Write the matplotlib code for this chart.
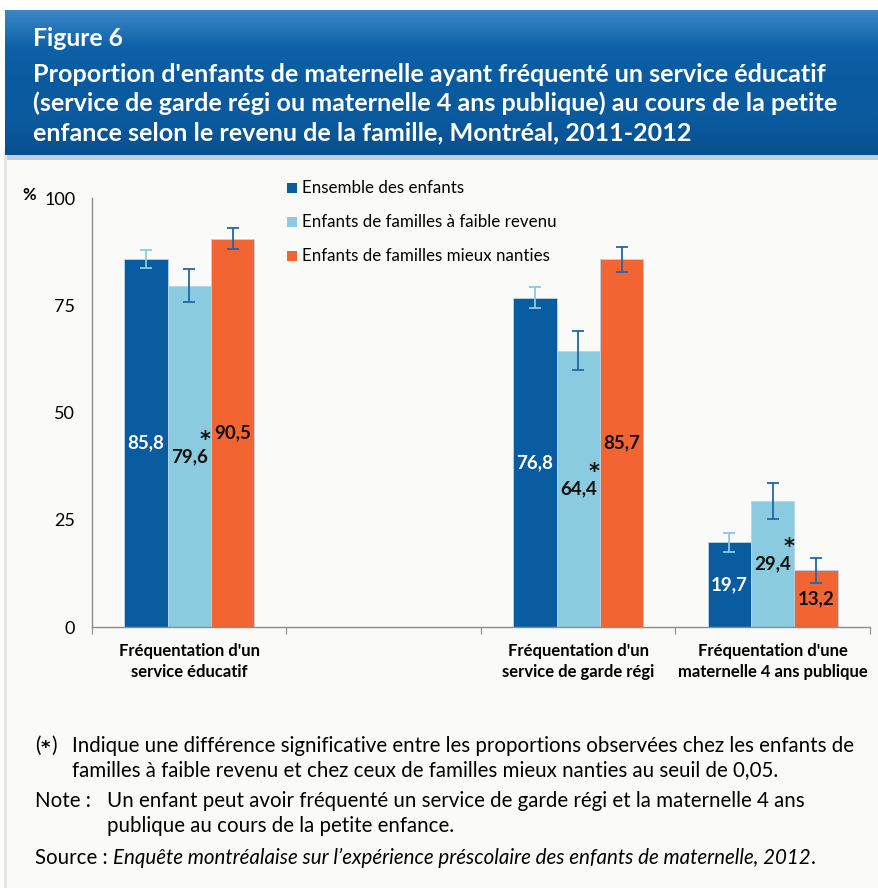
import numpy as np
import matplotlib
matplotlib.use("Agg")
import matplotlib.pyplot as plt
from matplotlib.patches import Rectangle
from matplotlib.colors import LinearSegmentedColormap

plt.rcParams['font.family'] = ['Lato', 'DejaVu Sans']

# ---- data ----
categories = ["Fréquentation d'un\nservice éducatif", "",
              "Fréquentation d'un\nservice de garde régi",
              "Fréquentation d'une\nmaternelle 4 ans publique"]
series_names = ["Ensemble des enfants",
                "Enfants de familles à faible revenu",
                "Enfants de familles mieux nanties"]
ensemble = [85.8, None, 76.8, 19.7]
faible = [79.6, None, 64.4, 29.4]
nanties = [90.5, None, 85.7, 13.2]
err_ensemble = [2.1, None, 2.5, 2.3]
err_faible = [3.9, None, 4.5, 4.2]
err_nanties = [2.5, None, 2.9, 2.9]
significant = [True, False, True, True]  # asterisk on low-income bar
yticks = [0, 25, 50, 75, 100]

colors = ["#0A5CA1", "#8ACBDF", "#F26532"]
err_colors = ["#8ACBDF", "#1F67A8", "#1F67A8"]
label_colors = ["white", "#111111", "#111111"]

W, H = 879, 888
fig = plt.figure(figsize=(W/100, H/100), dpi=100)
fig.patch.set_facecolor("white")

def fx(px): return px / W
def fy(py): return 1 - py / H

# background panel
bg = fig.add_axes([0, 0, 1, 1], zorder=-10)
bg.set_xlim(0, W); bg.set_ylim(H, 0); bg.axis("off")
bg.add_patch(Rectangle((6, 150), W, H, facecolor="#FAFAF8", edgecolor="none"))
bg.add_patch(Rectangle((4, 150), 3, H, facecolor="#E6E6E4", edgecolor="none"))
bg.add_patch(Rectangle((7, 14), W, 146, facecolor="#9FB3C8", edgecolor="none", alpha=0.6))
grad = np.linspace(0, 1, 100)[:, None]
cmap = LinearSegmentedColormap.from_list("b", ["#3C86C8", "#0E62A8", "#0A5A9F", "#0A5A9F", "#08508F"])
bg.imshow(grad, extent=(5, W, 155, 10), cmap=cmap, aspect="auto", zorder=1)

fig.text(fx(33), fy(38), "Figure 6", color="white", fontsize=17.8, fontweight="bold", va="center")
title_lines = ["Proportion d'enfants de maternelle ayant fréquenté un service éducatif",
               "(service de garde régi ou maternelle 4 ans publique) au cours de la petite",
               "enfance selon le revenu de la famille, Montréal, 2011-2012"]
for i, t in enumerate(title_lines):
    fig.text(fx(33), fy(74 + 29.5 * i), t, color="white", fontsize=18.1, fontweight="bold", va="center")

# ---- main axes ----
ax = fig.add_axes([fx(92), fy(627), fx(870) - fx(92), fy(198) - fy(627)])
ax.set_facecolor("none")
ax.set_xlim(-0.5, 3.5)
ax.set_ylim(0, 100)

bw = 0.223
offsets = [-bw, 0, bw]
all_vals = [ensemble, faible, nanties]
all_errs = [err_ensemble, err_faible, err_nanties]
for s in range(3):
    for i in range(len(categories)):
        v = all_vals[s][i]
        if v is None:
            continue
        x = i + offsets[s]
        ax.bar(x, v, width=bw, color=colors[s], edgecolor="#B8D4E8", linewidth=0.6, zorder=2)
        ax.errorbar(x, v, yerr=all_errs[s][i], fmt="none", ecolor=err_colors[s],
                    elinewidth=1.3, capsize=4, capthick=1.3, zorder=3)
        lbl = f"{v:.1f}".replace(".", ",")
        ax.text(x, v / 2, lbl, ha="center", va="center", color=label_colors[s],
                fontsize=13.5, fontweight="bold", zorder=4)
        if s == 1 and significant[i]:
            ax.annotate("*", (x, v / 2), xytext=(11.5, 12), textcoords="offset points",
                        ha="center", va="center", fontsize=15, fontweight="bold",
                        color="#111111", family="DejaVu Sans")

for sp in ["top", "right"]:
    ax.spines[sp].set_visible(False)
for sp in ["left", "bottom"]:
    ax.spines[sp].set_color("#8C8C8C")
    ax.spines[sp].set_linewidth(1.0)

ax.set_yticks(yticks)
ax.set_yticklabels([str(t) for t in yticks], fontsize=13)
ax.tick_params(axis="y", length=0, pad=12)
ax.set_xticks([-0.5, 0.5, 1.5, 2.5, 3.5])
ax.set_xticklabels([])
ax.tick_params(axis="x", length=5, color="#8C8C8C", direction="out")
for i, c in enumerate(categories):
    if c:
        ax.text(i, -3.8, c, ha="center", va="top", fontsize=12, fontweight="bold",
                linespacing=1.35, transform=ax.transData)

fig.text(fx(22), fy(195), "%", fontsize=12, fontweight="bold", va="center")

# legend
for s in range(3):
    yy = 188 + 34 * s
    bg.add_patch(Rectangle((287, yy - 5), 10, 10, facecolor=colors[s], edgecolor="none", zorder=3))
    fig.text(fx(302), fy(yy), series_names[s], fontsize=12.2, va="center")

# footnotes
fs = 14.8
fig.text(fx(35), fy(746), "(", fontsize=fs, va="center")
fig.text(fx(45), fy(748), "*", fontsize=13, va="center", ha="center", fontweight="bold",
         family="DejaVu Sans")
fig.text(fx(51), fy(746), ")", fontsize=fs, va="center")
fig.text(fx(72), fy(746), "Indique une différence significative entre les proportions observées chez les enfants de",
         fontsize=fs, va="center")
fig.text(fx(72), fy(770), "familles à faible revenu et chez ceux de familles mieux nanties au seuil de 0,05.",
         fontsize=fs, va="center")
fig.text(fx(35), fy(801), "Note :", fontsize=fs, va="center")
fig.text(fx(107), fy(801), "Un enfant peut avoir fréquenté un service de garde régi et la maternelle 4 ans",
         fontsize=fs, va="center")
fig.text(fx(107), fy(826), "publique au cours de la petite enfance.", fontsize=fs, va="center")
fig.text(fx(35), fy(858), "Source :", fontsize=fs, va="center")
src = fig.text(fx(113), fy(858), "Enquête montréalaise sur l’expérience préscolaire des enfants de maternelle, 2012",
               fontsize=fs, va="center", style="italic")
renderer = fig.canvas.get_renderer()
bb = src.get_window_extent(renderer=renderer)
fig.text((bb.x1 + 0.5) / W, fy(858), ".", fontsize=fs, va="center")

fig.savefig("out.png", dpi=100, facecolor=fig.get_facecolor())
